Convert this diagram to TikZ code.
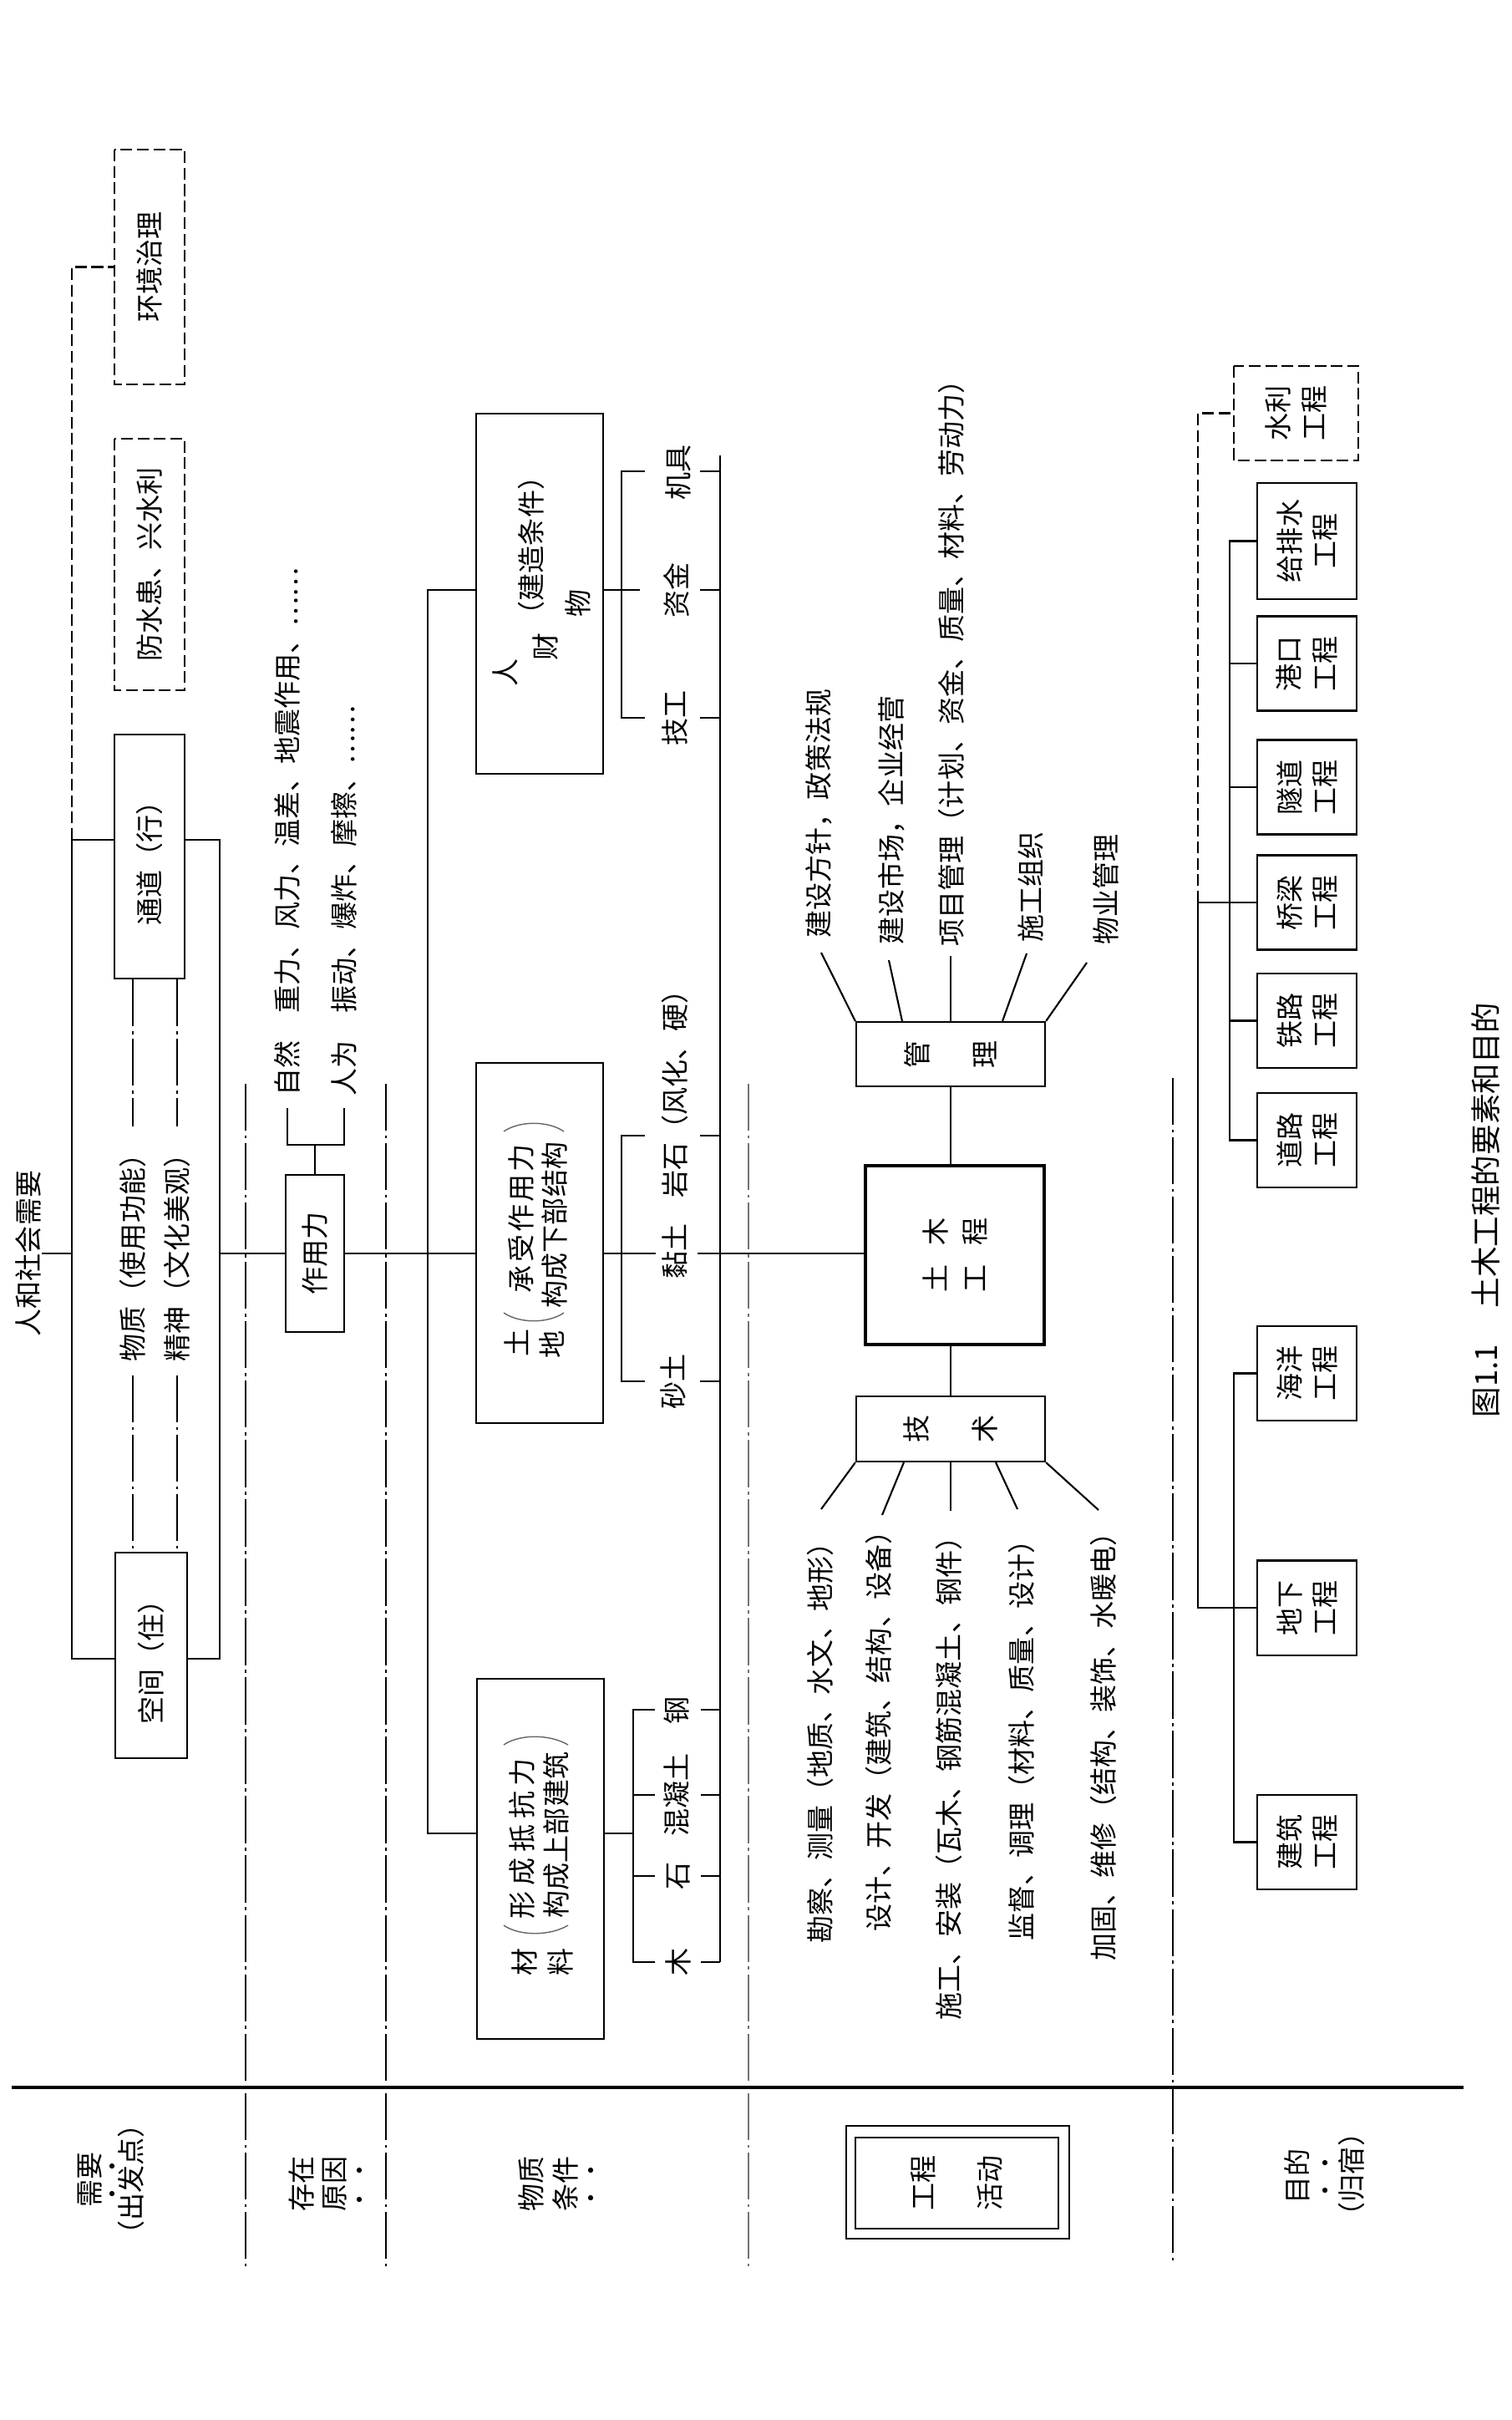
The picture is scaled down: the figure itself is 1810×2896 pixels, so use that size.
\documentclass[tikz,border=0pt]{standalone}
\usepackage{fontspec}
\newfontfamily\cjk{Noto Sans CJK SC}
\newcommand\fz{\cjk\fontsize{9.4}{12}\selectfont}
\begin{document}
\begin{tikzpicture}[x=0.01cm,y=-0.01cm,
 ln/.style={line width=0.6pt},
 thk/.style={line width=1.1pt},
 dd/.style={line width=0.6pt,dash pattern=on 16pt off 1.6pt on 1pt off 1.6pt},
 ddg/.style={dd,black!55},
 dsh/.style={line width=0.6pt,dash pattern=on 4pt off 1.6pt},
 lbl/.style={rotate=90,inner sep=0pt,font=\fz},
 bx/.style={rotate=90,draw,line width=0.6pt,inner sep=0pt,align=center,font=\fz},
 bxw/.style={bx,font=\cjk\fontsize{9.4}{12}\selectfont},
 dbx/.style={bx,dash pattern=on 4pt off 1.6pt},
 edot/.style={circle,fill,inner sep=0pt,minimum size=1.8pt},
 paren/.style={line width=0.4pt,black!60},
]
\useasboundingbox (0,0) rectangle (1810,2896);

% ---------------- Section 1: needs
\node[dbx,minimum width=2.81cm,minimum height=0.84cm] (hj) at (179,319.5) {环境治理};
\node[dbx,minimum width=3.01cm,minimum height=0.84cm] (fs) at (179,675.5) {防水患、兴水利};
\node[bx,minimum width=2.92cm,minimum height=0.84cm] (td) at (179,1025) {通道（行）};
\node[bx,minimum width=2.46cm,minimum height=0.86cm] (kj) at (181,1981) {空间（住）};
\node[lbl] (rh) at (34,1500) {人和社会需要};
\node[lbl,inner xsep=1.6mm] (wz) at (159,1497) {物质（使用功能）};
\node[lbl,inner xsep=1.6mm] (jsn) at (212,1497) {精神（文化美观）};
\coordinate (b1) at (86,1005);
\coordinate (b2) at (86,1985);
\coordinate (b3) at (263,1005);
\coordinate (b4) at (263,1985);
\coordinate (a0) at (263,1500);
\draw[ln] (b2 -| kj.north) -- (b2) -- (b1) -- (b1 -| td.north);
\draw[ln] (b3 -| td.south) -- (b3) -- (b4) -- (b4 -| kj.south);
\draw[dsh] (b1) -- (b1 |- hj.north) -- (hj.north);
\draw[ln] (rh.south) -- (rh.south -| b1);
\draw[dd] (td.west -| wz.east) -- (wz.east);
\draw[dd] (wz.west) -- (kj.east -| wz.west);
\draw[dd] (td.west -| jsn.east) -- (jsn.east);
\draw[dd] (jsn.west) -- (kj.east -| jsn.west);

% ---------------- Section 2: forces
\node[bx,minimum width=1.88cm,minimum height=0.70cm] (zyl) at (377,1500) {作用力};
\draw[ln] (a0) -- (zyl.north);
\coordinate (zc) at (377,1370);
\node[lbl,anchor=west,inner xsep=1.4mm] (zr) at (344,1326) {自然　重力、风力、温差、地震作用、……};
\node[lbl,anchor=west,inner xsep=1.4mm] (rw) at (412,1326) {人为　振动、爆炸、摩擦、……};
\draw[ln] (zyl.east) -- (zc);
\draw[ln] (zr.west) -- (zr.west |- zc) -- (rw.west |- zc) -- (rw.west);

% ---------------- separators
\draw[dd] (294,1297) -- (294,2712);
\draw[dd] (462,1297) -- (462,2712);
\draw[ddg] (896,1297) -- (896,2712);
\draw[dd] (1404,1290) -- (1404,2705);
\draw[thk] (14,2498) -- (1752,2498);

% ---------------- Section 3: material conditions
\node[bx,minimum width=4.31cm,minimum height=1.52cm] (rcw) at (646,710.5) {};
\node[bx,minimum width=4.31cm,minimum height=1.52cm] (tdd) at (646,1487.5) {};
\node[bx,minimum width=4.31cm,minimum height=1.52cm] (cl) at (647,2224.5) {};
\coordinate (s1t) at (512,706);
\coordinate (s1b) at (512,2194);
\draw[ln] (rcw.north |- s1t) -- (s1t) -- (s1b) -- (s1b -| cl.north);
\draw[ln] (zyl.south) -- (zyl.south -| tdd.north);

% texts inside rcw
\node[lbl] (ren) at (605,805) {人};
\node[lbl] (cai) at (653,774) {财};
\node[lbl] (wu) at (692,722) {物};
\node[lbl] (jztj) at (636,653) {（建造条件）};
% texts inside tdd
\node[lbl] (tu) at (618,1607) {土};
\node[lbl] (di) at (661,1609) {地};
\node[lbl] (csz) at (624,1458) {\makebox[1.78cm]{承\hfill 受\hfill 作\hfill 用\hfill 力}};
\node[lbl] (gxb) at (664,1466) {构成下部结构};
\draw[paren] (603,1571) .. controls (622,1584) and (656,1584) .. (675,1571);
\draw[paren] (603,1354) .. controls (622,1341) and (656,1341) .. (675,1354);
% texts inside cl
\node[lbl] (cai2) at (628,2348) {材};
\node[lbl] (liao) at (671,2348) {料};
\node[lbl] (xcd) at (625,2200) {\makebox[1.92cm]{形\hfill 成\hfill 抵\hfill 抗\hfill 力}};
\node[lbl] (gsb) at (666,2196) {构成上部建筑};
\draw[paren] (603,2304) .. controls (622,2317) and (658,2317) .. (680,2304);
\draw[paren] (603,2088) .. controls (622,2075) and (658,2075) .. (680,2088);

% right spine
\coordinate (s2t) at (862,545);
\coordinate (s2b) at (862,2348);
\draw[ln] (s2t) -- (s2b);

% rcw branch
\node[lbl] (jj) at (812,565) {机具};
\node[lbl] (zj) at (810,706) {资金};
\node[lbl] (jg) at (808,859) {技工};
\draw[ln] (rcw.south |- zj) -- (766,706);
\draw[ln] (772,564) -- (744,564) -- (744,859) -- (772,859);
\draw[ln] (838,564) -- (862,564);
\draw[ln] (838,706) -- (862,706);
\draw[ln] (838,859) -- (862,859);

% tdd branch
\node[lbl] (nt) at (808,1497) {黏土};
\node[lbl,anchor=west] (ys) at (808,1434) {岩石（风化、硬）};
\node[lbl] (st) at (806,1653) {砂土};
\draw[ln] (tdd.south |- a0) -- (785,1500);
\draw[ln] (772,1359) -- (744,1359) -- (744,1653) -- (772,1653);
\draw[ln] (838,1359) -- (862,1359);
\draw[ln] (838,1653) -- (862,1653);

% cl branch
\node[lbl] (gang) at (810,2047) {钢};
\node[lbl] (hnt) at (810,2148) {混凝土};
\node[lbl] (shi) at (812,2245) {石};
\node[lbl] (mu) at (812,2348) {木};
\draw[ln] (cl.south |- 0,2194) -- (758,2194);
\draw[ln] (784,2046) -- (758,2046) -- (758,2348) -- (784,2348);
\draw[ln] (758,2148) -- (784,2148);
\draw[ln] (758,2245) -- (784,2245);
\foreach \yy in {2046,2148,2245,2348} \draw[ln] (839,\yy) -- (862,\yy);

% ---------------- Section 4: engineering activities
\node[bx,line width=1.2pt,minimum width=2.14cm,minimum height=2.14cm,font=\cjk\fontsize{9.4}{13.4}\selectfont] (tm) at (1143,1502) {土\hspace{0.7em}木\\工\hspace{0.7em}程};
\node[bx,minimum width=0.77cm,minimum height=2.26cm,font=\cjk\fontsize{9.4}{23}\selectfont] (gl) at (1138,1261.5) {管\\理};
\node[bx,minimum width=0.78cm,minimum height=2.26cm,font=\cjk\fontsize{9.4}{23.5}\selectfont] (js) at (1138,1710) {技\\术};
\draw[ln] (835,1500) -- (tm.north |- a0);
\draw[ln] (gl.west) -- (gl.west |- tm.east);
\draw[ln] (js.east |- tm.west) -- (js.east);

\node[lbl,anchor=west,inner xsep=1.4mm] (m1) at (980,1137) {建设方针，政策法规};
\node[lbl,anchor=west,inner xsep=1.4mm] (m2) at (1067,1145) {建设市场，企业经营};
\node[lbl,anchor=west,inner xsep=1.4mm] (m3) at (1139,1147) {项目管理（计划、资金、质量、材料、劳动力）};
\node[lbl,anchor=west,inner xsep=1.4mm] (m4) at (1234,1142) {施工组织};
\node[lbl,anchor=west,inner xsep=1.4mm] (m5) at (1324,1145) {物业管理};
\coordinate (m1e) at (983,1140);
\coordinate (m2e) at (1064,1149);
\coordinate (m3e) at (1138,1144);
\coordinate (m4e) at (1229,1141);
\coordinate (m5e) at (1301,1152);
\draw[ln] (gl.north east) -- (m1e);
\draw[ln] ([xshift=-0.58cm]gl.east) -- (m2e);
\draw[ln] (gl.east) -- (m3e);
\draw[ln] ([xshift=0.62cm]gl.east) -- (m4e);
\draw[ln] (gl.south east) -- (m5e);

\node[lbl,anchor=east] (k1) at (982,1829) {勘察、测量（地质、水文、地形）};
\node[lbl,anchor=east] (k2) at (1052,1815) {设计、开发（建筑、结构、设备）};
\node[lbl,anchor=east] (k3) at (1136,1822) {施工、安装（瓦木、钢筋混凝土、钢件）};
\node[lbl,anchor=east] (k4) at (1223,1826) {监督、调理（材料、质量、设计）};
\node[lbl,anchor=east] (k5) at (1321,1817) {加固、维修（结构、装饰、水暖电）};
\coordinate (k1e) at (983,1806);
\coordinate (k2e) at (1056,1813);
\coordinate (k3e) at (1138,1808);
\coordinate (k4e) at (1218,1806);
\coordinate (k5e) at (1315,1807);
\draw[ln] (js.north west) -- (k1e);
\draw[ln] ([xshift=-0.56cm]js.west) -- (k2e);
\draw[ln] (js.west) -- (k3e);
\draw[ln] ([xshift=0.54cm]js.west) -- (k4e);
\draw[ln] (js.south west) -- (k5e);

% ---------------- Section 5: purposes
\tikzset{pb/.style={bx,minimum width=1.13cm,minimum height=1.19cm,font=\cjk\fontsize{9.4}{12}\selectfont}}
\node[pb] (dl) at (1564.5,1364.5) {道路\\工程};
\node[pb] (tl) at (1564.5,1221.5) {铁路\\工程};
\node[pb] (ql) at (1564.5,1080) {桥梁\\工程};
\node[pb] (sd) at (1564.5,942) {隧道\\工程};
\node[pb] (gk) at (1564.5,794) {港口\\工程};
\node[pb,minimum width=1.39cm] (gps) at (1564.5,647.5) {给排水\\工程};
\node[pb,dash pattern=on 4pt off 1.6pt,minimum height=1.49cm] (sl) at (1551.5,494.5) {水利\\工程};
\node[pb] (hy) at (1564.5,1643.5) {海洋\\工程};
\node[pb] (dx) at (1564.5,1924) {地下\\工程};
\node[pb] (jz) at (1564.5,2204.5) {建筑\\工程};
\coordinate (p1) at (1472,0);
\coordinate (p2) at (1434,0);
\coordinate (p3) at (1477,0);
\draw[ln] (gps.north) -- (gps.north -| p1) -- (dl.north -| p1) -- (dl.north);
\foreach \bb in {gk,sd,tl} \draw[ln] (\bb.north -| p1) -- (\bb.north);
\draw[ln] (ql.north) -- (ql.north -| p2) -- (dx.north -| p2) -- (dx.north);
\draw[dsh] (ql.north -| p2) -- (sl.north -| p2) -- (sl.north);
\draw[ln] (hy.north) -- (hy.north -| p3) -- (jz.north -| p3) -- (jz.north);

% ---------------- bottom row labels
\node[lbl] (xy) at (108,2608) {需要};
\node[edot] (xyd1) at (134,2592) {};
\node[edot] (xyd2) at (134,2625) {};
\node[lbl] (cfd) at (157,2608) {（出发点）};
\node[lbl] (cz) at (361,2613) {存在};
\node[lbl] (yy) at (401,2613) {原因};
\node[edot] (yyd1) at (430,2597) {};
\node[edot] (yyd2) at (430,2632) {};
\node[lbl] (wzl) at (636,2613) {物质};
\node[lbl] (tj) at (677,2613) {条件};
\node[edot] (tjd1) at (707,2597) {};
\node[edot] (tjd2) at (707,2630) {};
\node[bx,minimum width=1.09cm,minimum height=2.43cm,font=\cjk\fontsize{9.4}{22.8}\selectfont] (gchd) at (1145.5,2612.5) {工程\\活动};
\draw[ln] (1013,2544) rectangle (1280,2679);
\node[lbl] (md) at (1553,2604) {目的};
\node[edot] (mdd1) at (1586,2588) {};
\node[edot] (mdd2) at (1586,2621) {};
\node[lbl] (gs) at (1618,2602) {（归宿）};

% caption
\node[lbl,font=\cjk\fontsize{10.4}{12}\selectfont] (cap) at (1779,1448) {图1.1\hspace{1.2em}土木工程的要素和目的};
\end{tikzpicture}
\end{document}
